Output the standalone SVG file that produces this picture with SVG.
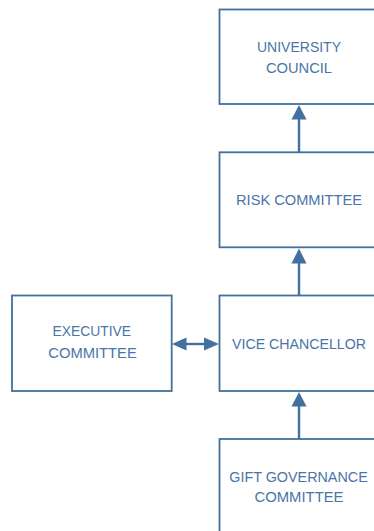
<svg xmlns="http://www.w3.org/2000/svg" width="374" height="531" viewBox="0 0 374 531">
  <style>
    .box { fill: #ffffff; stroke: #41719c; stroke-width: 1.8; }
    .lbl { font-family: "Liberation Sans", Arial, sans-serif; font-size: 15.3px; fill: #4a75a8; text-anchor: middle; }
    .edge { stroke: #41719c; stroke-width: 2.4; fill: none; }
    .head { fill: #41719c; }
  </style>
  <rect width="374" height="531" fill="#ffffff"/>

  <g id="university-council">
    <rect class="box" x="219.5" y="9.5" width="160" height="94.5"/>
    <text class="lbl" x="299" y="51.7" textLength="84" lengthAdjust="spacingAndGlyphs">UNIVERSITY</text>
    <text class="lbl" x="299" y="72.7" textLength="66" lengthAdjust="spacingAndGlyphs">COUNCIL</text>
  </g>

  <g id="risk-committee">
    <rect class="box" x="219.5" y="152.3" width="160" height="95"/>
    <text class="lbl" x="299" y="205.3" textLength="126" lengthAdjust="spacingAndGlyphs">RISK COMMITTEE</text>
  </g>

  <g id="executive-committee">
    <rect class="box" x="12" y="295.5" width="159.7" height="95.5"/>
    <text class="lbl" x="91.8" y="335.7" textLength="78.5" lengthAdjust="spacingAndGlyphs">EXECUTIVE</text>
    <text class="lbl" x="92.5" y="357.7" textLength="88.5" lengthAdjust="spacingAndGlyphs">COMMITTEE</text>
  </g>

  <g id="vice-chancellor">
    <rect class="box" x="219.5" y="295.5" width="160" height="95.5"/>
    <text class="lbl" x="299" y="349" textLength="134" lengthAdjust="spacingAndGlyphs">VICE CHANCELLOR</text>
  </g>

  <g id="gift-governance-committee">
    <rect class="box" x="219.5" y="439" width="160" height="95"/>
    <text class="lbl" x="298.5" y="481.7" textLength="138.5" lengthAdjust="spacingAndGlyphs">GIFT GOVERNANCE</text>
    <text class="lbl" x="299" y="502" textLength="89" lengthAdjust="spacingAndGlyphs">COMMITTEE</text>
  </g>

  <g id="connectors">
    <!-- risk committee up to university council -->
    <line class="edge" x1="299" y1="152.3" x2="299" y2="118"/>
    <polygon class="head" points="299,105 306.5,119.5 291.5,119.5"/>
    <!-- vice chancellor up to risk committee -->
    <line class="edge" x1="299" y1="295.5" x2="299" y2="262"/>
    <polygon class="head" points="299,248.5 306.5,263.5 291.5,263.5"/>
    <!-- gift governance up to vice chancellor -->
    <line class="edge" x1="299" y1="439" x2="299" y2="405"/>
    <polygon class="head" points="299,392 306.5,406.5 291.5,406.5"/>
    <!-- executive committee to and from vice chancellor -->
    <line class="edge" x1="185" y1="344" x2="205" y2="344"/>
    <polygon class="head" points="172,344 186.5,337.5 186.5,350.5"/>
    <polygon class="head" points="219,344 204,337.5 204,350.5"/>
  </g>
</svg>
